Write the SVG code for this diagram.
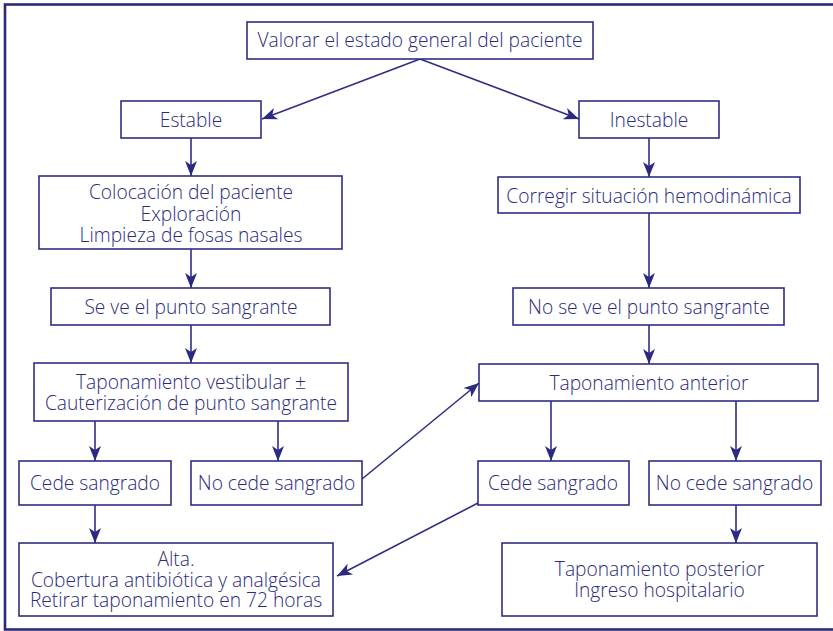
<svg xmlns="http://www.w3.org/2000/svg" width="833" height="631" viewBox="0 0 833 631">
<style>
.box{fill:#fff;stroke:#2f2e84;stroke-width:1.6}
.t{font-family:"Open Sans","Noto Sans","DejaVu Sans",sans-serif;font-size:19.2px;font-weight:300;fill:#2b2a7c;text-anchor:middle}
.c{fill:none;stroke:#2f2e84;stroke-width:1.6}
</style>
<defs>
<marker id="ah" markerUnits="userSpaceOnUse" viewBox="-16 -7 17 14" refX="0" refY="0" markerWidth="17" markerHeight="14" orient="auto">
<path d="M0,0 L-15,-6 L-11,0 L-15,6 Z" fill="#2b2a80"/>
</marker>
</defs>
<rect x="0" y="0" width="833" height="631" fill="#fff"/>
<rect id="frame" x="5" y="4.5" width="840" height="625" fill="none" stroke="#2a2a78" stroke-width="2.6"/>
<g id="connectors">
<line class="c" x1="420" y1="59" x2="262" y2="119" marker-end="url(#ah)"/>
<line class="c" x1="420" y1="59" x2="579" y2="119" marker-end="url(#ah)"/>
<line class="c" x1="191" y1="138" x2="191" y2="176" marker-end="url(#ah)"/>
<line class="c" x1="649" y1="138" x2="649" y2="177" marker-end="url(#ah)"/>
<line class="c" x1="191" y1="249" x2="191" y2="288" marker-end="url(#ah)"/>
<line class="c" x1="649" y1="213" x2="649" y2="288" marker-end="url(#ah)"/>
<line class="c" x1="191" y1="325" x2="191" y2="363" marker-end="url(#ah)"/>
<line class="c" x1="649" y1="325" x2="649" y2="364" marker-end="url(#ah)"/>
<line class="c" x1="95" y1="421" x2="95" y2="461" marker-end="url(#ah)"/>
<line class="c" x1="278" y1="421" x2="278" y2="461" marker-end="url(#ah)"/>
<line class="c" x1="362" y1="479" x2="479" y2="383" marker-end="url(#ah)"/>
<line class="c" x1="551" y1="401" x2="551" y2="461" marker-end="url(#ah)"/>
<line class="c" x1="736" y1="401" x2="736" y2="461" marker-end="url(#ah)"/>
<line class="c" x1="95" y1="505" x2="95" y2="543" marker-end="url(#ah)"/>
<line class="c" x1="478" y1="503" x2="337" y2="576" marker-end="url(#ah)"/>
<line class="c" x1="736" y1="505" x2="736" y2="543" marker-end="url(#ah)"/>
</g>
<g id="valorar"><rect class="box" x="247" y="22" width="346" height="37"/><text class="t" x="420" y="47">Valorar el estado general del paciente</text></g>
<g id="estable"><rect class="box" x="121" y="101" width="140" height="37"/><text class="t" x="191" y="127">Estable</text></g>
<g id="inestable"><rect class="box" x="579" y="101" width="140" height="37"/><text class="t" x="649" y="127">Inestable</text></g>
<g id="colocacion"><rect class="box" x="39" y="176" width="303" height="73"/><text class="t" x="191" y="199">Colocación del paciente</text><text class="t" x="191" y="221">Exploración</text><text class="t" x="191" y="242">Limpieza de fosas nasales</text></g>
<g id="corregir"><rect class="box" x="498" y="177" width="302" height="36"/><text class="t" x="649" y="203">Corregir situación hemodinámica</text></g>
<g id="seve"><rect class="box" x="51" y="288" width="279" height="37"/><text class="t" x="191" y="314">Se ve el punto sangrante</text></g>
<g id="noseve"><rect class="box" x="513" y="288" width="271" height="37"/><text class="t" x="649" y="314">No se ve el punto sangrante</text></g>
<g id="tapvest"><rect class="box" x="34" y="363" width="314" height="58"/><text class="t" x="191" y="389">Taponamiento vestibular ±</text><text class="t" x="191" y="410">Cauterización de punto sangrante</text></g>
<g id="tapant"><rect class="box" x="479" y="364" width="339" height="37"/><text class="t" x="649" y="390">Taponamiento anterior</text></g>
<g id="cedeL"><rect class="box" x="19" y="461" width="152" height="44"/><text class="t" x="95" y="490">Cede sangrado</text></g>
<g id="nocedeL"><rect class="box" x="191" y="461" width="171" height="44"/><text class="t" x="276.5" y="490">No cede sangrado</text></g>
<g id="cedeR"><rect class="box" x="478" y="461" width="151" height="44"/><text class="t" x="553" y="490">Cede sangrado</text></g>
<g id="nocedeR"><rect class="box" x="649" y="461" width="172" height="44"/><text class="t" x="734.5" y="490">No cede sangrado</text></g>
<g id="alta"><rect class="box" x="19" y="543" width="314" height="73"/><text class="t" x="176" y="566">Alta.</text><text class="t" x="176" y="587">Cobertura antibiótica y analgésica</text><text class="t" x="176" y="607">Retirar taponamiento en 72 horas</text></g>
<g id="tappost"><rect class="box" x="502" y="543" width="315" height="73"/><text class="t" x="659.5" y="576">Taponamiento posterior</text><text class="t" x="659.5" y="597">Ingreso hospitalario</text></g>
</svg>
